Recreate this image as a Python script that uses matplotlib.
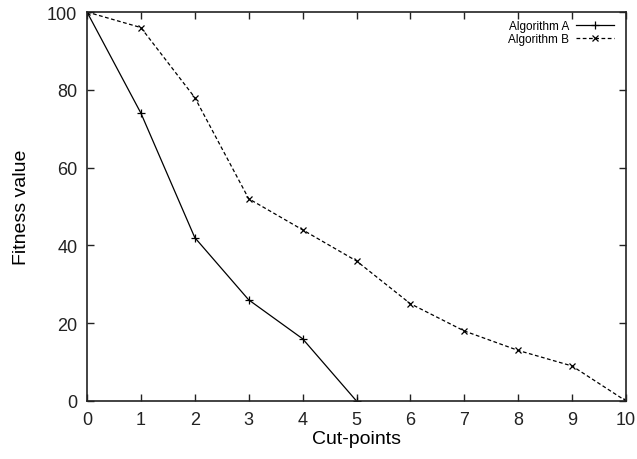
import matplotlib
matplotlib.use("Agg")
import matplotlib.pyplot as plt

plt.rcParams['font.family'] = ['Liberation Sans', 'DejaVu Sans']

cuts_a = [0, 1, 2, 3, 4, 5]
fit_a = [100, 74, 42, 26, 16, 0]
cuts_b = [0, 1, 2, 3, 4, 5, 6, 7, 8, 9, 10]
fit_b = [100, 96, 78, 52, 44, 36, 25, 18, 13, 9, 0]

fig = plt.figure(figsize=(6.37, 4.6), dpi=100)
ax = fig.add_axes([87 / 637, 58 / 460, 539 / 637, 389 / 460])

ax.plot(cuts_a, fit_a, color='black', lw=0.9, marker='+', ms=6, mew=0.9, label='Algorithm A')
ax.plot(cuts_b, fit_b, color='black', lw=0.9, ls=(0, (3, 2)), marker='x', ms=5, mew=0.9, label='Algorithm B')

ax.set_xlim(0, 10)
ax.set_ylim(0, 100)
ax.set_xticks(range(0, 11))
ax.set_yticks(range(0, 101, 20))
ax.tick_params(direction='in', top=True, right=True, labelsize=13, length=5, width=1,
               colors='#222222', pad=7)
for s in ax.spines.values():
    s.set_linewidth(1.2)
    s.set_color('#222222')
ax.set_xlabel('Cut-points', fontsize=14, labelpad=2)
ax.set_ylabel('Fitness value', fontsize=14, labelpad=12)

leg = ax.legend(loc='upper right', frameon=False, markerfirst=False, fontsize=8.5,
                handlelength=3.2, handletextpad=0.6, labelspacing=0.05,
                borderaxespad=0.3, bbox_to_anchor=(0.993, 1.0))

fig.savefig('out.png', dpi=100)
